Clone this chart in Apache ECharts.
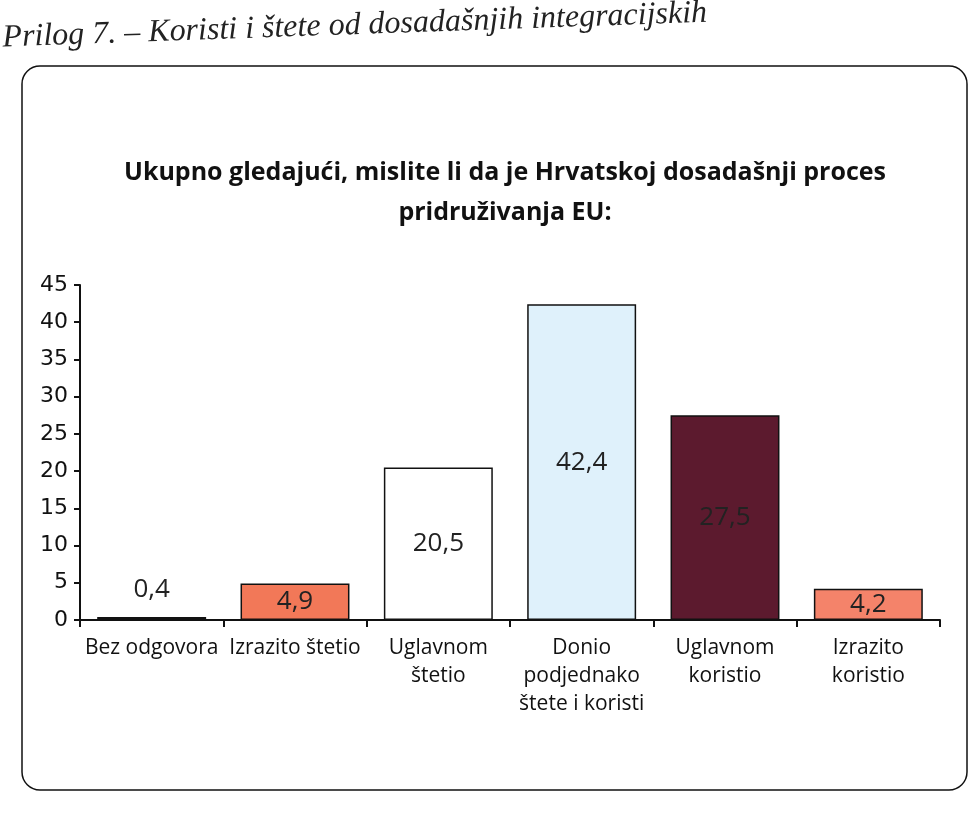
<!DOCTYPE html>
<html>
<head>
<meta charset="utf-8">
<script src="https://cdn.jsdelivr.net/npm/echarts@6/dist/echarts.min.js"></script>
<style>
  html, body { margin: 0; padding: 0; background: #fff; }
  #main { width: 980px; height: 828px; }
</style>
</head>
<body>
<div id="main"></div>
<script>
// podaci
const categories = [
  'Bez odgovora',
  'Izrazito štetio',
  'Uglavnom\nštetio',
  'Donio\npodjednako\nštete i koristi',
  'Uglavnom\nkoristio',
  'Izrazito\nkoristio'
]
const values = [0.4, 4.9, 20.5, 42.4, 27.5, 4.2]
const barColors = ['#3b2a30', '#f27858', '#ffffff', '#dff1fb', '#5c1a2e', '#f4836a']
const yTicks = [0, 5, 10, 15, 20, 25, 30, 35, 40, 45]

const chart = echarts.init(document.getElementById('main'))
const fmt = v => String(v).replace('.', ',')

const option = {
  backgroundColor: '#fff',
  animation: false,
  title: {
    text: 'Ukupno gledajući, mislite li da je Hrvatskoj dosadašnji proces\npridruživanja EU:',
    left: 500,
    top: 148,
    textAlign: 'center',
    textStyle: {
      fontFamily: 'Open Sans',
      fontWeight: 'bold',
      fontSize: 25,
      lineHeight: 40,
      color: '#111'
    }
  },
  graphic: [
    { // okvir
      type: 'rect',
      shape: { x: 22, y: 66, width: 945, height: 724, r: 18 },
      style: { fill: 'none', stroke: '#111', lineWidth: 1.5 },
      z: -1
    },
    { // naslov priloga
      type: 'text',
      x: 2, y: 22,
      rotation: 0.035,
      style: {
        text: 'Prilog 7. – Koristi i štete od dosadašnjih integracijskih',
        font: 'italic 32px "Liberation Serif"',
        fill: '#222'
      }
    }
  ],
  grid: {
    left: 80,
    right: 40,
    top: 285,
    height: 335
  },
  xAxis: {
    type: 'category',
    data: categories,
    axisLine: { lineStyle: { color: '#111', width: 2 } },
    axisTick: { show: true, length: 7, lineStyle: { color: '#111', width: 2 } },
    axisLabel: {
      color: '#111',
      fontFamily: 'Open Sans',
      fontSize: 21,
      lineHeight: 28,
      margin: 14,
      interval: 0
    }
  },
  yAxis: {
    type: 'value',
    min: 0,
    max: 45,
    interval: 5,
    splitLine: { show: false },
    axisLine: { show: true, lineStyle: { color: '#111', width: 2 } },
    axisTick: { show: true, length: 6, lineStyle: { color: '#111', width: 2 } },
    axisLabel: {
      color: '#111',
      fontFamily: 'DejaVu Sans',
      fontSize: 22,
      margin: 12,
      formatter: v => yTicks.includes(v) ? String(v) : ''
    }
  },
  series: [
    {
      type: 'bar',
      barCategoryGap: '24%',
      data: values.map((v, i) => ({
        value: v,
        itemStyle: { color: barColors[i] },
        label: { position: i === 0 ? 'top' : 'inside', distance: 14 }
      })),
      itemStyle: { borderColor: '#111', borderWidth: 1.5 },
      label: {
        show: true,
        fontFamily: 'Open Sans',
        fontSize: 26,
        color: '#222',
        formatter: p => fmt(p.value)
      }
    }
  ]
}
chart.setOption(option)
</script>
</body>
</html>
